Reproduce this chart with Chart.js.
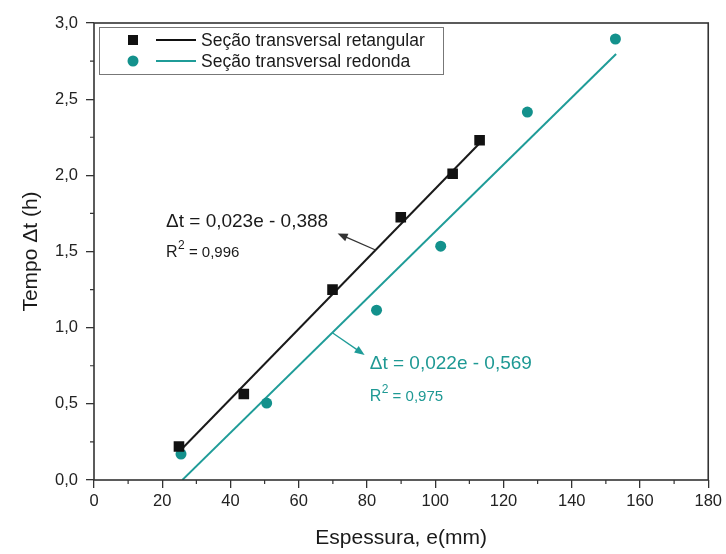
<!DOCTYPE html>
<html>
<head>
<meta charset="utf-8">
<script src="https://cdn.jsdelivr.net/npm/chart.js@4.4.0/dist/chart.umd.min.js"></script>
<style>
  html, body { margin: 0; padding: 0; background: #fff; }
</style>
</head>
<body>
<canvas id="graficoTempo" width="726" height="554"></canvas>
<script>
// Pontos medidos
const espRetangular = [24.9, 43.9, 69.9, 89.9, 105.1, 113.0];
const tempoRetangular = [0.22, 0.565, 1.25, 1.725, 2.01, 2.23];
const espRedonda = [25.5, 50.6, 82.8, 101.6, 127.0, 152.8];
const tempoRedonda = [0.17, 0.505, 1.115, 1.535, 2.415, 2.895];

// Ajustes lineares: [inclinação, intercepto] e faixa de e
const ajusteRetangular = [0.023, -0.388];
const faixaRetangular = [25, 113];
const ajusteRedonda = [0.022, -0.569];
const faixaRedonda = [25.9, 153];

const rotulosSeries = ['Seção transversal retangular', 'Seção transversal redonda'];
const textoEqRetangular = ['Δt = 0,023e - 0,388', '0,996'];
const textoEqRedonda = ['Δt = 0,022e - 0,569', '0,975'];

const PRETO = '#111';
const VERDE = '#13918c';
const VERDE_LINHA = '#1f9c98';
const FONTE = "'Liberation Sans', Arial, sans-serif";

function pontos(xs, ys) {
    return xs.map((x, i) => ({ x: x, y: ys[i] }));
}

function retaAjuste(coef, faixa) {
    return faixa.map(e => ({ x: e, y: coef[0] * e + coef[1] }));
}

function seta(ctx, x0, y0, x1, y1, cor) {
    const ang = Math.atan2(y1 - y0, x1 - x0);
    ctx.save();
    ctx.strokeStyle = cor;
    ctx.fillStyle = cor;
    ctx.lineWidth = 1.3;
    ctx.beginPath();
    ctx.moveTo(x0, y0);
    ctx.lineTo(x1 - 8 * Math.cos(ang), y1 - 8 * Math.sin(ang));
    ctx.stroke();
    ctx.beginPath();
    ctx.moveTo(x1, y1);
    ctx.lineTo(x1 - 10 * Math.cos(ang) + 4 * Math.sin(ang), y1 - 10 * Math.sin(ang) - 4 * Math.cos(ang));
    ctx.lineTo(x1 - 10 * Math.cos(ang) - 4 * Math.sin(ang), y1 - 10 * Math.sin(ang) + 4 * Math.cos(ang));
    ctx.closePath();
    ctx.fill();
    ctx.restore();
}

function equacao(ctx, x, y, textos, cor, dy) {
    ctx.save();
    ctx.fillStyle = cor;
    ctx.textAlign = 'left';
    ctx.textBaseline = 'alphabetic';
    ctx.font = '19px ' + FONTE;
    ctx.fillText(textos[0], x, y);
    // linha do R²
    const y2 = y + dy;
    ctx.font = '16px ' + FONTE;
    ctx.fillText('R', x, y2);
    let px = x + ctx.measureText('R').width + 0.5;
    ctx.font = '12px ' + FONTE;
    ctx.fillText('2', px, y2 - 8);
    px += ctx.measureText('2').width;
    ctx.font = '15px ' + FONTE;
    ctx.fillText(' = ' + textos[1], px, y2);
    ctx.restore();
}

// moldura do gráfico e marcas menores
const moldura = {
    id: 'moldura',
    afterDraw(chart) {
        const { ctx, chartArea: a, scales } = chart;
        ctx.save();
        ctx.strokeStyle = '#333';
        ctx.lineWidth = 1.6;
        ctx.strokeRect(a.left, a.top, a.right - a.left, a.bottom - a.top);
        ctx.lineWidth = 1.2;
        ctx.beginPath();
        for (let v = 10; v < 180; v += 20) {
            const px = scales.x.getPixelForValue(v);
            ctx.moveTo(px, a.bottom);
            ctx.lineTo(px, a.bottom + 4);
        }
        for (let v = 0.25; v < 3; v += 0.5) {
            const py = scales.y.getPixelForValue(v);
            ctx.moveTo(a.left, py);
            ctx.lineTo(a.left - 4, py);
        }
        ctx.stroke();
        ctx.restore();
    }
};

const legendaCaixa = {
    id: 'legendaCaixa',
    afterDraw(chart) {
        const { ctx, chartArea: a } = chart;
        const bx = a.left + 5, by = a.top + 4;
        ctx.save();
        ctx.strokeStyle = '#777';
        ctx.lineWidth = 1;
        ctx.strokeRect(bx + 0.5, by + 0.5, 344, 47);
        const linhas = [by + 13, by + 34];
        ctx.font = '17.5px ' + FONTE;
        ctx.textBaseline = 'middle';
        rotulosSeries.forEach((rot, i) => {
            const cy = linhas[i];
            ctx.fillStyle = i === 0 ? PRETO : VERDE;
            if (i === 0) {
                ctx.fillRect(bx + 29, cy - 5, 10, 10);
            } else {
                ctx.beginPath();
                ctx.arc(bx + 34, cy, 5.5, 0, Math.PI * 2);
                ctx.fill();
            }
            ctx.strokeStyle = i === 0 ? PRETO : VERDE_LINHA;
            ctx.lineWidth = 2;
            ctx.beginPath();
            ctx.moveTo(bx + 57, cy);
            ctx.lineTo(bx + 97, cy);
            ctx.stroke();
            ctx.fillStyle = '#1a1a1a';
            ctx.fillText(rot, bx + 102, cy + 1);
        });
        ctx.restore();
    }
};

const anotacoes = {
    id: 'anotacoes',
    afterDatasetsDraw(chart) {
        const { ctx, scales: { x, y } } = chart;
        const p = (ex, ty) => [x.getPixelForValue(ex), y.getPixelForValue(ty)];
        const [t1x, t1y] = p(82.5, 1.51), [h1x, h1y] = p(71.4, 1.618);
        seta(ctx, t1x, t1y, h1x, h1y, '#333');
        const [t2x, t2y] = p(69.95, 0.965), [h2x, h2y] = p(79.3, 0.821);
        seta(ctx, t2x, t2y, h2x, h2y, VERDE_LINHA);
        const [e1x, e1y] = p(21.1, 1.663);
        equacao(ctx, e1x, e1y, textoEqRetangular, '#1a1a1a', 30);
        const [e2x, e2y] = p(80.8, 0.727);
        equacao(ctx, e2x, e2y, textoEqRedonda, '#1e9994', 32);
    }
};

const ctx = document.getElementById('graficoTempo').getContext('2d');

new Chart(ctx, {
    type: 'scatter',
    data: {
        datasets: [
            {
                label: rotulosSeries[0],
                data: pontos(espRetangular, tempoRetangular),
                pointStyle: 'rect',
                pointRadius: 7.5,
                backgroundColor: PRETO,
                borderWidth: 0,
                order: 0
            },
            {
                label: rotulosSeries[1],
                data: pontos(espRedonda, tempoRedonda),
                pointStyle: 'circle',
                pointRadius: 5.5,
                backgroundColor: VERDE,
                borderWidth: 0,
                order: 0
            },
            {
                data: retaAjuste(ajusteRetangular, faixaRetangular),
                showLine: true,
                borderColor: '#1a1a1a',
                borderWidth: 2,
                pointRadius: 0,
                order: 1
            },
            {
                data: retaAjuste(ajusteRedonda, faixaRedonda),
                showLine: true,
                borderColor: VERDE_LINHA,
                borderWidth: 2,
                pointRadius: 0,
                order: 1
            }
        ]
    },
    options: {
        responsive: false,
        animation: false,
        devicePixelRatio: 1,
        layout: { padding: { top: 23, right: 17, left: 0, bottom: 0 } },
        plugins: {
            legend: { display: false },
            tooltip: { enabled: false }
        },
        scales: {
            x: {
                type: 'linear',
                min: 0,
                max: 180,
                afterFit: s => { s.height = 74; },
                border: { display: false },
                grid: { drawOnChartArea: false, drawTicks: true, tickLength: 8, color: '#333', lineWidth: 1.3 },
                ticks: { stepSize: 20, padding: 4, color: '#222', font: { family: FONTE, size: 16.5 } },
                title: { display: true, text: 'Espessura, e(mm)', color: '#1a1a1a', padding: { top: 0, bottom: 3 }, font: { family: FONTE, size: 21 } }
            },
            y: {
                type: 'linear',
                min: 0,
                max: 3,
                afterFit: s => { s.width = 94; },
                border: { display: false },
                grid: { drawOnChartArea: false, drawTicks: true, tickLength: 8, color: '#333', lineWidth: 1.3 },
                ticks: {
                    stepSize: 0.5,
                    padding: 8,
                    color: '#222',
                    font: { family: FONTE, size: 16.5 },
                    callback: v => v.toFixed(1).replace('.', ',')
                },
                title: { display: true, text: 'Tempo Δt (h)', color: '#1a1a1a', padding: { top: 19, bottom: 0 }, font: { family: FONTE, size: 21 } }
            }
        }
    },
    plugins: [moldura, legendaCaixa, anotacoes]
});
</script>
</body>
</html>
